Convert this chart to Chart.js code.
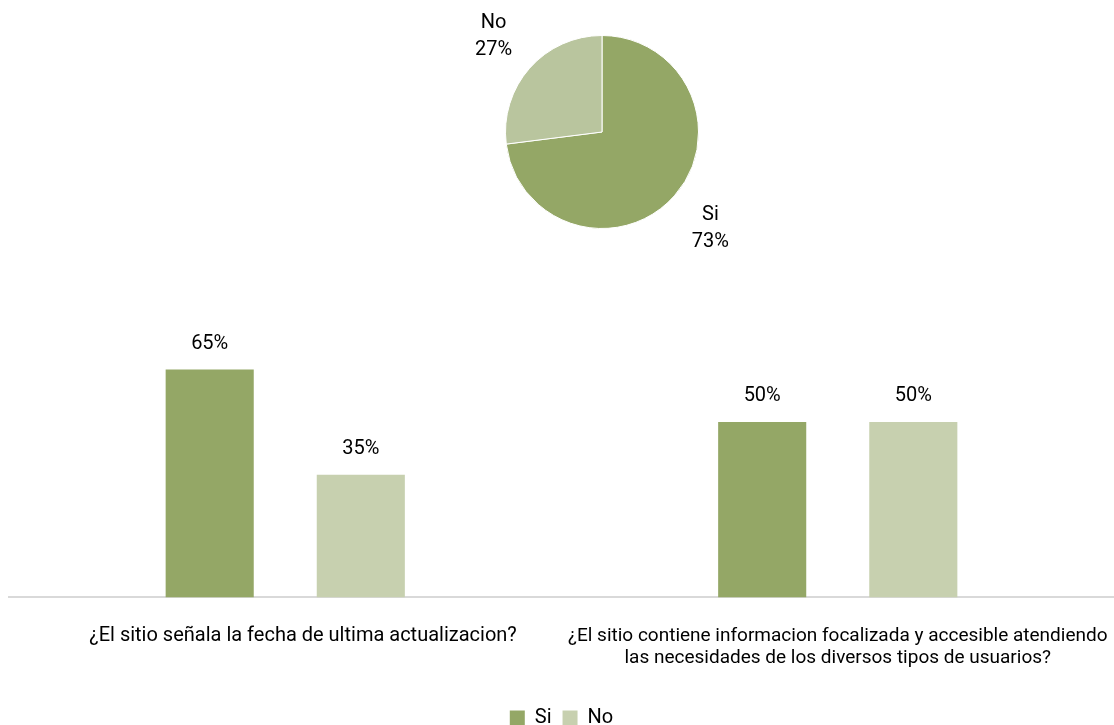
<!DOCTYPE html>
<html>
<head>
<meta charset="utf-8">
<script src="https://cdn.jsdelivr.net/npm/chart.js@4"></script>
<style>
  html, body { margin: 0; padding: 0; background: #fff; }
  body { width: 1114px; height: 725px; position: relative; overflow: hidden; }
  #pieBox { position: absolute; left: 405px; top: 0; width: 394px; height: 270px; }
  #barBox { position: absolute; left: 0; top: 270px; width: 1114px; height: 468px; }
</style>
</head>
<body>
<div id="pieBox"><canvas id="pieChart"></canvas></div>
<div id="barBox"><canvas id="barChart"></canvas></div>
<script>
const FONT = 'Roboto, "Noto Sans", sans-serif';

// pie data
const pieLabels = ['Si', 'No'];
const pieValues = [73, 27];

// bar data
const questions = [
  '¿El sitio señala la fecha de ultima actualizacion?',
  ['¿El sitio contiene informacion focalizada y accesible atendiendo', 'las necesidades de los diversos tipos de usuarios?']
];
const siValues = [65, 50];
const noValues = [35, 50];

const darkGreen = '#94a766';
const lightGreen = '#c7d0af';
const pieLight = '#b9c59e';

// labels outside the pie slices
const pieOutLabels = {
  id: 'pieOutLabels',
  afterDatasetsDraw(chart) {
    const ctx = chart.ctx;
    const meta = chart.getDatasetMeta(0);
    ctx.save();
    ctx.font = '20px ' + FONT;
    ctx.fillStyle = '#000';
    ctx.textAlign = 'center';
    ctx.textBaseline = 'middle';
    meta.data.forEach((arc, i) => {
      const p = arc.getProps(['x', 'y', 'startAngle', 'endAngle', 'outerRadius'], true);
      const mid = (p.startAngle + p.endAngle) / 2;
      const r = p.outerRadius + 48;
      const cx = p.x + Math.cos(mid) * r;
      const cy = p.y + Math.sin(mid) * r;
      ctx.fillText(pieLabels[i], cx, cy - 13);
      ctx.fillText(pieValues[i] + '%', cx, cy + 14);
    });
    ctx.restore();
  }
};

new Chart(document.getElementById('pieChart'), {
  type: 'pie',
  data: {
    labels: pieLabels,
    datasets: [{
      data: pieValues,
      backgroundColor: [darkGreen, pieLight],
      borderColor: '#ffffff',
      borderWidth: 1
    }]
  },
  options: {
    responsive: true,
    maintainAspectRatio: false,
    animation: false,
    layout: { padding: { left: 100, right: 100, top: 35, bottom: 41 } },
    plugins: { legend: { display: false }, tooltip: { enabled: false } }
  },
  plugins: [pieOutLabels]
});

// value labels on top of the bars
const barValueLabels = {
  id: 'barValueLabels',
  afterDatasetsDraw(chart) {
    const ctx = chart.ctx;
    ctx.save();
    ctx.font = '20px ' + FONT;
    ctx.fillStyle = '#000';
    ctx.textAlign = 'center';
    ctx.textBaseline = 'bottom';
    chart.data.datasets.forEach((ds, di) => {
      chart.getDatasetMeta(di).data.forEach((bar, i) => {
        ctx.fillText(ds.data[i] + '%', bar.x, bar.y - 16);
      });
    });
    ctx.restore();
  }
};

new Chart(document.getElementById('barChart'), {
  type: 'bar',
  data: {
    labels: questions,
    datasets: [
      { label: 'Si', data: siValues, backgroundColor: darkGreen },
      { label: 'No', data: noValues, backgroundColor: lightGreen }
    ]
  },
  options: {
    responsive: true,
    maintainAspectRatio: false,
    animation: false,
    categoryPercentage: 0.547,
    barPercentage: 0.583,
    layout: { padding: { left: 9, right: 0, top: 82, bottom: 0 } },
    scales: {
      x: {
        grid: { display: false, drawTicks: false },
        border: { display: true, color: '#d9d9d9', width: 2 },
        ticks: {
          color: '#000',
          font: (c) => ({ family: FONT, size: c.index === 0 ? 20 : 19 }),
          padding: 27,
          maxRotation: 0,
          autoSkip: false,
          // first label sits a little right of its bars in the original
          callback: function (value, index) {
            const lbl = this.getLabelForValue(value);
            return index === 0 ? '\u2002\u2002\u2002 ' + lbl : lbl;
          }
        },
        // long labels fit already, don't let them squeeze the plot
        afterFit: (axis) => {
          axis.paddingLeft = 0;
          axis.paddingRight = 0;
        }
      },
      y: {
        display: false,
        min: 0,
        max: 70
      }
    },
    plugins: {
      tooltip: { enabled: false },
      legend: {
        position: 'bottom',
        labels: {
          color: '#000',
          font: { family: FONT, size: 20 },
          boxWidth: 15,
          boxHeight: 15,
          padding: 11
        }
      }
    }
  },
  plugins: [barValueLabels]
});
</script>
</body>
</html>
